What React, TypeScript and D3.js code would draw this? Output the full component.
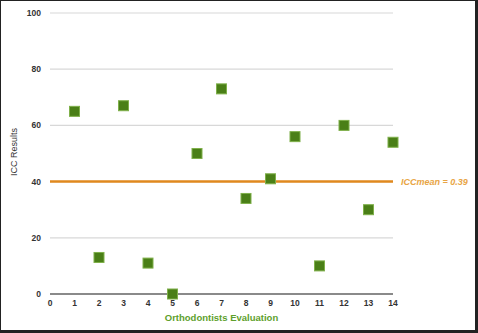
import React from "react";
import * as d3 from "d3";

const evaluations = [1, 2, 3, 4, 5, 6, 7, 8, 9, 10, 11, 12, 13, 14];
const iccValues = [65, 13, 67, 11, 0, 50, 73, 34, 41, 56, 10, 60, 30, 54];
const xTicks = [0, 1, 2, 3, 4, 5, 6, 7, 8, 9, 10, 11, 12, 13, 14];
const yTicks = [0, 20, 40, 60, 80, 100];
const meanValue = 40;
const meanLabel = "ICCmean = 0.39";

const W = 478;
const H = 333;
const left = 50;
const right = 393;
const top = 13;
const bottom = 294;

export default function App() {
  const x = d3.scaleLinear().domain([0, 14]).range([left, right]);
  const y = d3.scaleLinear().domain([0, 100]).range([bottom, top]);
  const font = "Arial, 'Liberation Sans', sans-serif";
  return (
    <svg width={W} height={H} style={{ position: "absolute", left: 0, top: 0 }}>
      <rect x={0} y={0} width={W} height={H} fill="#fff" />
      <rect x={0.5} y={0.5} width={W - 2.5} height={H - 2.5} fill="none" stroke="#222" strokeWidth={1} />
      <line x1={W - 1.5} y1={0} x2={W - 1.5} y2={H} stroke="#222" strokeWidth={3} />
      <line x1={0} y1={H - 1.5} x2={W} y2={H - 1.5} stroke="#222" strokeWidth={3} />
      {yTicks.filter((t) => t !== 0).map((t) => (
        <line key={t} x1={left} x2={right} y1={y(t)} y2={y(t)} stroke="#d8d8d8" strokeWidth={1.2} />
      ))}
      <line x1={left} x2={right} y1={y(0)} y2={y(0)} stroke="#8a8a8a" strokeWidth={2} />
      {yTicks.map((t) => (
        <text key={t} x={41} y={y(t) + 3} textAnchor="end" fontSize={8.5} fontFamily={font} fill="#333" fontWeight="bold">
          {t}
        </text>
      ))}
      {xTicks.map((t) => (
        <text key={t} x={x(t)} y={306} textAnchor="middle" fontSize={8.5} fontFamily={font} fill="#333" fontWeight="bold">
          {t}
        </text>
      ))}
      <line x1={left} x2={right} y1={y(meanValue)} y2={y(meanValue)} stroke="#e0891e" strokeWidth={2.5} />
      <text x={401} y={y(meanValue) + 3} fontSize={9} fontFamily={font} fill="#e8a545" fontWeight="bold" fontStyle="italic">
        {meanLabel}
      </text>
      {evaluations.map((e, i) => (
        <rect
          key={e}
          x={x(e) - 5}
          y={y(iccValues[i]) - 5}
          width={10}
          height={10}
          fill="#4a7f17"
          stroke="#7fb04a"
          strokeWidth={1}
        />
      ))}
      <text
        transform={`translate(17,152) rotate(-90)`}
        textAnchor="middle"
        fontSize={9}
        fontFamily={font}
        fill="#333"
      >
        ICC Results
      </text>
      <text x={(left + right) / 2} y={321} textAnchor="middle" fontSize={9.5} fontFamily={font} fill="#5e9f2c" fontWeight="bold">
        Orthodontists Evaluation
      </text>
    </svg>
  );
}
